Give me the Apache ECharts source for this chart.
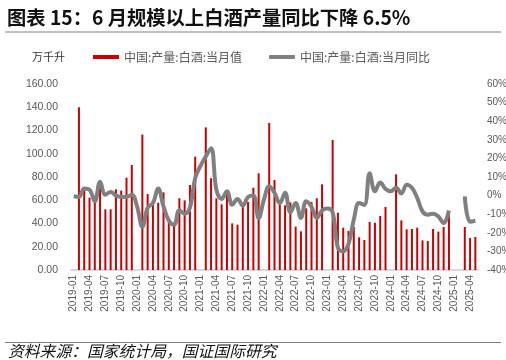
<!DOCTYPE html>
<html>
<head>
<meta charset="utf-8">
<script src="https://cdn.jsdelivr.net/npm/echarts@6/dist/echarts.min.js"></script>
<style>
html,body{margin:0;padding:0;background:#fff;}
#c{width:506px;height:360px;}
</style>
</head>
<body>
<div id="c"></div>
<script>
const categories = [
'2019-01','2019-02','2019-03','2019-04','2019-05','2019-06','2019-07','2019-08','2019-09','2019-10','2019-11','2019-12',
'2020-01','2020-02','2020-03','2020-04','2020-05','2020-06','2020-07','2020-08','2020-09','2020-10','2020-11','2020-12',
'2021-01','2021-02','2021-03','2021-04','2021-05','2021-06','2021-07','2021-08','2021-09','2021-10','2021-11','2021-12',
'2022-01','2022-02','2022-03','2022-04','2022-05','2022-06','2022-07','2022-08','2022-09','2022-10','2022-11','2022-12',
'2023-01','2023-02','2023-03','2023-04','2023-05','2023-06','2023-07','2023-08','2023-09','2023-10','2023-11','2023-12',
'2024-01','2024-02','2024-03','2024-04','2024-05','2024-06','2024-07','2024-08','2024-09','2024-10','2024-11','2024-12',
'2025-01','2025-02','2025-03','2025-04','2025-05'
];
// 万千升
const production = [
null,140.0,69.4,62.2,57.9,75.1,52.2,52.2,69.4,68.3,79.4,90.3,
null,116.5,65.3,57.3,57.9,66.8,42.2,40.1,61.7,59.9,73.1,97.5,
null,122.7,78.9,61.7,56.5,65.4,40.1,39.0,55.3,58.5,70.8,83.2,
null,126.5,77.4,56.8,55.6,58.2,37.3,33.3,53.0,58.5,61.7,73.7,
null,111.8,49.3,36.4,33.5,37.0,28.1,25.8,41.3,40.7,46.5,54.2,
null,82.3,42.7,35.0,35.3,36.4,25.5,24.9,35.3,33.0,37.0,47.3,
null,null,37.0,27.5,28.4
];
// %
const yoy = [
-0.4,-0.7,3.8,3.2,-3.1,7.5,0.5,2.0,0.0,-0.7,-0.7,0.5,
-5.8,-16.8,-6.6,-4.0,3.8,-5.8,-13.4,-15.7,-7.9,-9.7,-6.5,9.5,
16.0,21.0,25.5,3.2,-1.8,2.3,-4.9,-1.8,-5.4,-0.7,0.0,-12.1,
-2.2,5.0,1.5,-4.0,1.5,-9.0,-4.0,-12.0,-3.0,-6.0,-12.0,-8.0,
-7.0,-9.0,-28.0,-30.0,-26.0,-13.0,-4.0,-5.0,12.0,2.3,7.0,3.6,
2.3,4.2,1.1,5.9,4.2,-1.2,-8.5,-10.3,-9.7,-11.2,-14.8,-8.0,
null,null,-0.4,-14.0,-13.5
];
const leftTicks = {min:0, max:160, interval:20};
const rightTicks = {min:-40, max:60, interval:10};
const seriesNames = ['中国:产量:白酒:当月值','中国:产量:白酒:当月同比'];
const titleText = '图表 15：6 月规模以上白酒产量同比下降 6.5%';
const unitText = '万千升';
const sourceText = '资料来源：国家统计局，国证国际研究';

const chart = echarts.init(document.getElementById('c'), null, {renderer:'canvas'});
const labelColor = '#595959';
chart.setOption({
  animation:false,
  backgroundColor:'#fff',
  textStyle:{fontFamily:'"Noto Sans CJK SC", "Liberation Sans", sans-serif'},
  grid:{left:71, right:28, top:84, bottom:90, containLabel:false, outerBoundsMode:'none'},
  legend:{
    left:93, top:51, padding:0, itemWidth:26, itemHeight:4, itemGap:27,
    textStyle:{fontSize:12, color:labelColor},
    data:[{name:seriesNames[0], icon:'rect'},{name:seriesNames[1], icon:'roundRect'}]
  },
  xAxis:{
    type:'category', data:categories, boundaryGap:true,
    axisLine:{show:true, lineStyle:{color:'#d9d9d9', width:2}},
    axisTick:{show:false},
    axisLabel:{interval:2, rotate:90, margin:5, fontSize:10, color:labelColor, fontFamily:'"Liberation Sans", sans-serif'},
    splitLine:{show:false}
  },
  yAxis:[
    {type:'value', min:leftTicks.min, max:leftTicks.max, interval:leftTicks.interval, position:'left',
     axisLine:{show:false}, axisTick:{show:false}, splitLine:{show:false},
     axisLabel:{margin:13, fontSize:10.5, color:labelColor, fontFamily:'"Liberation Sans", sans-serif',
       formatter:v=>v.toFixed(2)}},
    {type:'value', min:rightTicks.min, max:rightTicks.max, interval:rightTicks.interval, position:'right',
     axisLine:{show:false}, axisTick:{show:false}, splitLine:{show:false},
     axisLabel:{margin:9, fontSize:10, color:labelColor, fontFamily:'"Liberation Sans", sans-serif',
       formatter:v=>v+'%'}}
  ],
  series:[
    {name:seriesNames[0], type:'bar', yAxisIndex:0, data:production, barWidth:2,
     itemStyle:{color:'#c80000'}, z:2},
    {name:seriesNames[1], type:'line', yAxisIndex:1, data:yoy, smooth:0.4, symbol:'none',
     connectNulls:false,
     lineStyle:{color:'#808080', width:4}, itemStyle:{color:'#808080'}, z:3}
  ],
  graphic:[
    {type:'text', left:7, top:8, style:{text:titleText, fontSize:19.3, fontWeight:'bold', fill:'#111',
      fontFamily:'"Noto Sans CJK SC", sans-serif'}},
    {type:'line', shape:{x1:5, y1:32, x2:501, y2:32}, style:{stroke:'#808080', lineWidth:1}},
    {type:'text', left:32, top:51, style:{text:unitText, fontSize:11, fill:'#333',
      fontFamily:'"Noto Sans CJK SC", sans-serif'}},
    {type:'line', shape:{x1:5, y1:342.5, x2:501, y2:342.5}, style:{stroke:'#808080', lineWidth:1}},
    {type:'text', left:8, top:343, style:{text:sourceText, fontSize:15.8, fontStyle:'italic', fill:'#111',
      fontFamily:'"Noto Sans CJK SC", sans-serif'}}
  ]
});
</script>
</body>
</html>
